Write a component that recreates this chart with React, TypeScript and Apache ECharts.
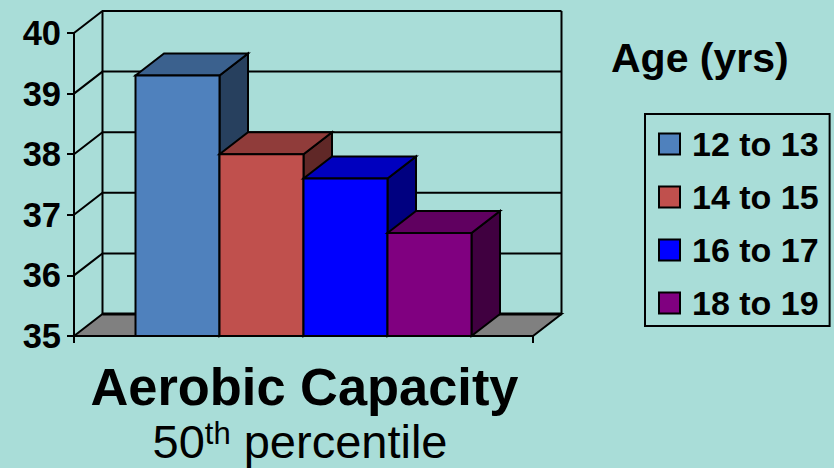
import React, { useEffect, useRef } from "react";
import * as echarts from "echarts";

const categories = ["Aerobic Capacity"];
const ageGroups = ["12 to 13", "14 to 15", "16 to 17", "18 to 19"];
const capacityValues = [39.3, 38.0, 37.6, 36.7];
const axisTicks = [35, 36, 37, 38, 39, 40];
const faceColors = [
  { front: "#4F81BD", top: "#3B618E", side: "#27405E" },
  { front: "#C0504D", top: "#903C3A", side: "#602827" },
  { front: "#0000FF", top: "#0000BF", side: "#000080" },
  { front: "#800080", top: "#600060", side: "#400040" },
];

const FONT = '"Liberation Sans", Arial, sans-serif';
const BACKGROUND = "#A9DDD8";
const DEPTH_X = 28.5;
const DEPTH_Y = 22;
const BAR_SHARE = 0.183;

// Left end and width of the category band, in pixels.
function band(api: any) {
  const centre = api.coord([0, 35])[0];
  const width = api.size([1, 0])[0];
  return { left: centre - width / 2, right: centre + width / 2, width };
}

// Walls, floor and receding grid lines, one call per axis tick.
function renderFrame(_params: any, api: any) {
  const tick = api.value(1);
  const y = api.coord([0, tick])[1];
  const { left, right } = band(api);
  const backY = y - DEPTH_Y;
  const children: any[] = [];
  if (tick === axisTicks[0]) {
    children.push({
      type: "polygon",
      shape: {
        points: [
          [left, y],
          [left + DEPTH_X, backY],
          [right + DEPTH_X, backY],
          [right, y],
        ],
      },
      style: { fill: "#808080", stroke: "#000", lineWidth: 2 },
    });
    children.push({
      type: "line",
      shape: { x1: left + DEPTH_X, y1: backY, x2: right + DEPTH_X, y2: backY },
      style: { stroke: "#000", lineWidth: 3 },
    });
  } else {
    children.push({
      type: "polyline",
      shape: {
        points: [
          [left, y],
          [left + DEPTH_X, backY],
          [right + DEPTH_X, backY],
        ],
      },
      style: { fill: "none", stroke: "#000", lineWidth: 2 },
    });
  }
  if (tick === axisTicks[axisTicks.length - 1]) {
    const floorY = api.coord([0, axisTicks[0]])[1] - DEPTH_Y;
    [left + DEPTH_X, right + DEPTH_X].forEach((x) =>
      children.push({
        type: "line",
        shape: { x1: x, y1: backY, x2: x, y2: floorY },
        style: { stroke: "#000", lineWidth: 2 },
      }),
    );
  }
  return { type: "group", children };
}

// A clustered bar with its front, top and side faces.
function renderBar(index: number) {
  return (_params: any, api: any) => {
    const { left, width } = band(api);
    const barWidth = width * BAR_SHARE;
    const start = left + width * ((1 - BAR_SHARE * ageGroups.length) / 2) + barWidth * index;
    const end = start + barWidth;
    const top = api.coord([0, api.value(1)])[1];
    const bottom = api.coord([0, 35])[1];
    const colors = faceColors[index];
    const edge = { stroke: "#000", lineWidth: 2, lineJoin: "miter" };
    return {
      type: "group",
      children: [
        {
          type: "polygon",
          shape: {
            points: [
              [end, top],
              [end + DEPTH_X, top - DEPTH_Y],
              [end + DEPTH_X, bottom - DEPTH_Y],
              [end, bottom],
            ],
          },
          style: { fill: colors.side, ...edge },
        },
        {
          type: "polygon",
          shape: {
            points: [
              [start, top],
              [start + DEPTH_X, top - DEPTH_Y],
              [end + DEPTH_X, top - DEPTH_Y],
              [end, top],
            ],
          },
          style: { fill: colors.top, ...edge },
        },
        {
          type: "rect",
          shape: { x: start, y: top, width: barWidth, height: bottom - top },
          style: { fill: colors.front, ...edge },
        },
      ],
    };
  };
}

export default function App() {
  const ref = useRef<HTMLDivElement>(null);

  useEffect(() => {
    const chart = echarts.init(ref.current!, undefined, { renderer: "svg" });
    chart.setOption({
      animation: false,
      backgroundColor: BACKGROUND,
      textStyle: { fontFamily: FONT },
      title: [
        {
          text: "Age (yrs)",
          left: 611,
          top: 37,
          padding: 0,
          textStyle: { fontFamily: FONT, fontSize: 41, fontWeight: "bold", color: "#000" },
        },
        {
          text: "Aerobic Capacity",
          left: 304.5,
          top: 361,
          padding: 0,
          textAlign: "center",
          textStyle: { fontFamily: FONT, fontSize: 52.4, fontWeight: "bold", color: "#000" },
        },
        {
          text: "{base|50}{sup|th}{base| percentile}",
          left: 300,
          top: 418,
          padding: 0,
          textAlign: "center",
          textStyle: {
            fontFamily: FONT,
            color: "#000",
            fontWeight: "normal",
            rich: {
              base: { fontFamily: FONT, fontSize: 47, fontWeight: "normal", color: "#000" },
              sup: { fontFamily: FONT, fontSize: 31, fontWeight: "normal", color: "#000", verticalAlign: "top" },
            },
          },
        },
      ],
      legend: {
        data: ageGroups,
        orient: "vertical",
        left: 645,
        top: 114,
        icon: "rect",
        itemWidth: 21,
        itemHeight: 21,
        itemGap: 19,
        padding: [13, 11, 6, 13],
        borderColor: "#000",
        borderWidth: 2,
        itemStyle: { borderColor: "#000", borderWidth: 2 },
        selectedMode: false,
        textStyle: {
          fontFamily: FONT,
          fontSize: 34,
          fontWeight: "bold",
          color: "#000",
          padding: [0, 0, 0, 7],
        },
      },
      grid: { left: 74, right: 301, top: 33, bottom: 132 },
      xAxis: {
        type: "category",
        data: categories,
        axisLine: { lineStyle: { color: "#000", width: 2 } },
        axisTick: { show: true, interval: 0, length: 7, lineStyle: { color: "#000", width: 2 } },
        axisLabel: { show: false },
      },
      yAxis: {
        type: "value",
        min: 35,
        max: 40,
        interval: 1,
        splitLine: { show: false },
        axisLine: { show: true, lineStyle: { color: "#000", width: 2 } },
        axisTick: { show: true, length: 7, lineStyle: { color: "#000", width: 2 } },
        axisLabel: {
          color: "#000",
          fontFamily: FONT,
          fontSize: 34.5,
          fontWeight: "bold",
          margin: 13,
        },
      },
      series: [
        {
          name: "frame",
          type: "custom",
          renderItem: renderFrame,
          clip: false,
          silent: true,
          data: axisTicks.map((tick) => [0, tick]),
        },
        ...ageGroups.map((name, index) => ({
          name,
          type: "custom",
          renderItem: renderBar(index),
          clip: false,
          itemStyle: { color: faceColors[index].front },
          data: [[0, capacityValues[index]]],
        })),
      ],
    });
    return () => chart.dispose();
  }, []);

  return (
    <div
      ref={ref}
      style={{ position: "fixed", left: 0, top: 0, width: 834, height: 468 }}
    />
  );
}
